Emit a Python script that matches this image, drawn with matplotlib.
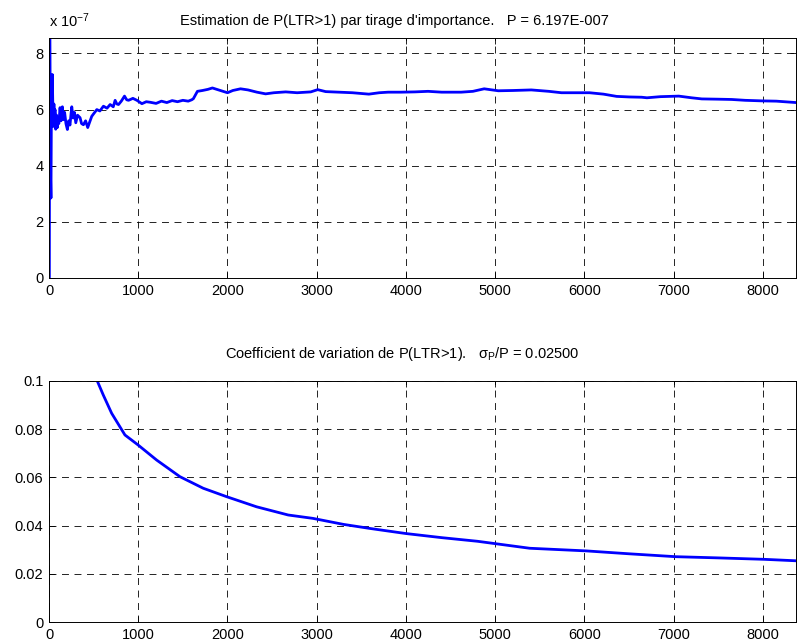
import numpy as np
import matplotlib
matplotlib.use("Agg")
import matplotlib.pyplot as plt

plt.rcParams['font.family'] = ['Liberation Sans', 'DejaVu Sans']
plt.rcParams['font.size'] = 10.5
plt.rcParams['mathtext.fontset'] = 'custom'
plt.rcParams['mathtext.rm'] = 'Liberation Sans'
plt.rcParams['mathtext.it'] = 'Liberation Sans'
plt.rcParams['lines.scale_dashes'] = False

# estimate of P(LTR>1), in units of 1e-7, vs number of draws
n_est = [0, 4, 7, 10, 14, 18, 22, 26, 30, 34, 37, 42, 48, 55, 62, 67, 75, 85, 93,
         100, 110, 124, 135, 150, 161, 175, 190, 206, 220, 235, 255, 270, 285, 300,
         320, 348, 365, 386, 410, 434, 455, 479, 500, 536, 570, 610, 650, 685, 720,
         741, 760, 779, 810, 846, 870, 891, 940, 985, 1041, 1090, 1135, 1200, 1260,
         1320, 1380, 1440, 1500, 1560, 1600, 1618, 1663, 1720, 1780, 1831, 1880,
         1940, 2000, 2060, 2146, 2230, 2330, 2427, 2520, 2652, 2780, 2933, 3011,
         3100, 3250, 3400, 3584, 3700, 3800, 3944, 4100, 4247, 4400, 4618, 4750,
         4876, 5034, 5200, 5404, 5600, 5742, 5910, 6056, 6213, 6360, 6500, 6640,
         6700, 6850, 7056, 7200, 7315, 7500, 7650, 7800, 7990, 8150, 8370]
p_est = [0, 0, 9.5, 8.8, 6.0, 3.5, 2.85, 5.5, 6.8, 5.9, 7.25, 6.3, 5.4, 6.2, 5.5,
         6.0, 5.3, 5.8, 5.36, 5.7, 5.5, 6.07, 5.6, 6.1, 5.64, 5.9, 5.5, 5.29, 5.6,
         5.45, 6.1, 5.7, 5.9, 5.53, 5.8, 5.71, 5.5, 5.46, 5.6, 5.36, 5.55, 5.76,
         5.85, 6.0, 5.95, 6.12, 6.05, 6.18, 6.1, 6.33, 6.2, 6.18, 6.3, 6.48, 6.35,
         6.33, 6.4, 6.33, 6.21, 6.28, 6.26, 6.22, 6.3, 6.25, 6.32, 6.28, 6.33, 6.3,
         6.35, 6.39, 6.65, 6.68, 6.72, 6.77, 6.72, 6.66, 6.6, 6.68, 6.74, 6.7, 6.62,
         6.56, 6.6, 6.63, 6.6, 6.63, 6.71, 6.64, 6.62, 6.6, 6.55, 6.6, 6.62, 6.62,
         6.63, 6.65, 6.62, 6.62, 6.65, 6.74, 6.67, 6.68, 6.7, 6.65, 6.6, 6.6, 6.6,
         6.55, 6.47, 6.45, 6.44, 6.42, 6.46, 6.48, 6.42, 6.38, 6.37, 6.36, 6.33,
         6.31, 6.3, 6.25]

# coefficient of variation sigma_P / P
n_cv = [400, 480, 541, 608, 702, 851, 1000, 1206, 1467, 1728, 1990, 2326, 2680,
        2957, 3300, 3600, 4000, 4400, 4800, 5386, 6021, 6500, 7021, 7500, 8018, 8370]
cv = [0.117, 0.106, 0.1, 0.0942, 0.0866, 0.0776, 0.0734, 0.0672, 0.0603, 0.0555,
      0.052, 0.0478, 0.0444, 0.043, 0.0405, 0.0388, 0.0367, 0.035, 0.0335, 0.0306,
      0.0295, 0.0283, 0.0271, 0.0266, 0.026, 0.0254]

xticks = [0, 1000, 2000, 3000, 4000, 5000, 6000, 7000, 8000]
yticks_top = [0, 2, 4, 6, 8]
yticks_bot = [0, 0.02, 0.04, 0.06, 0.08, 0.1]
ylabels_bot = ['0', '0.02', '0.04', '0.06', '0.08', '0.1']
xmax = 8370

W, H = 802, 642
fig = plt.figure(figsize=(W / 100, H / 100), dpi=100)

def px_axes(left, top, right, bottom):
    return fig.add_axes([left / W, 1 - bottom / H, (right - left) / W, (bottom - top) / H])

def style(ax):
    ax.set_xlim(0, xmax)
    ax.set_xticks(xticks)
    ax.grid(True, color='black', linewidth=0.6, dashes=(5, 4))
    ax.tick_params(direction='in', top=True, right=True, length=4, width=0.6,
                   labelsize=10.5, pad=4)
    for s in ax.spines.values():
        s.set_linewidth(0.7)

ax1 = px_axes(49, 38, 796, 278)
ax1.plot(n_est, p_est, color='#0000ff', linewidth=2)
style(ax1)
ax1.set_ylim(0, 8.55)
ax1.set_yticks(yticks_top)

ax2 = px_axes(49, 381, 796, 622)
ax2.plot(n_cv, cv, color='#0000ff', linewidth=2)
style(ax2)
ax2.set_ylim(0, 0.1)
ax2.set_yticks(yticks_bot)
ax2.set_yticklabels(ylabels_bot)

fig.text(180 / W, 1 - 24.5 / H,
         "Estimation de P(LTR>1) par tirage d'importance.   P = 6.197E-007",
         ha='left', va='baseline')
fig.text(49 / W, 1 - 27 / H, r'x 10$^{-7}$', ha='left', va='baseline')
fig.text(225 / W, 1 - 358 / H,
         r'Coefficient de variation de P(LTR>1).   $\sigma_{\mathrm{P}}$/P = 0.02500',
         ha='left', va='baseline')

fig.savefig('out.png', dpi=100)
